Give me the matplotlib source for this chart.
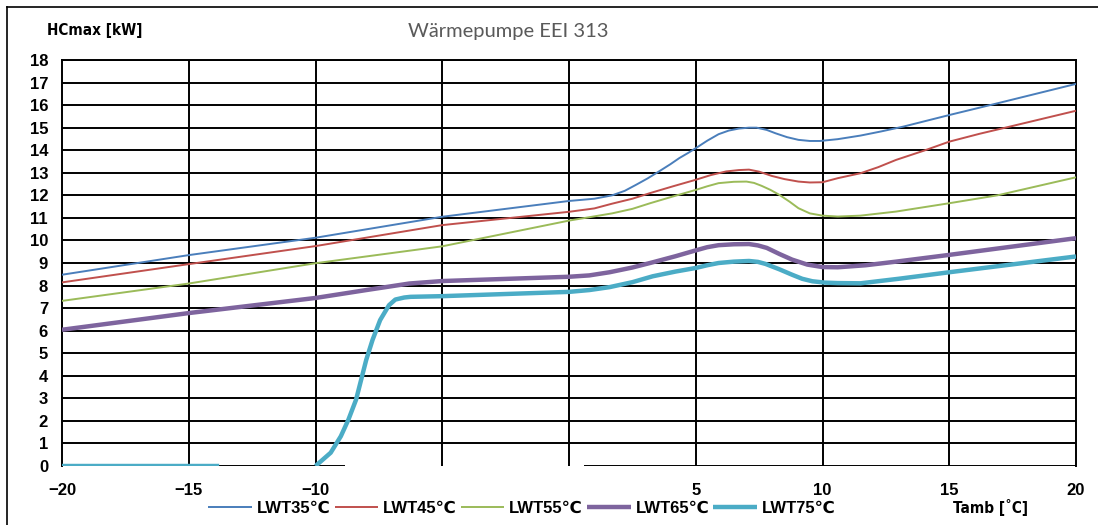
import numpy as np
import matplotlib
matplotlib.use('Agg')
import matplotlib.pyplot as plt
from matplotlib.lines import Line2D

# 数据
x35 = [-20, -15, -10, -5, 0, 1, 1.7, 2.2, 2.65, 3.1, 3.55, 4.0, 4.35, 4.7, 5, 5.45, 5.9, 6.3, 6.7, 7.1, 7.4,
       7.8, 8.15, 8.6, 9.05, 9.5, 9.9, 10.6, 11.5, 12.3, 13.2, 15, 16.9, 20]
y35 = [8.48, 9.35, 10.12, 11.05, 11.75, 11.85, 12.0, 12.2, 12.47, 12.75, 13.06, 13.38, 13.65, 13.88, 14.09,
       14.42, 14.71, 14.87, 14.96, 15.0, 15.0, 14.9, 14.75, 14.58, 14.46, 14.41, 14.41, 14.49, 14.65, 14.83,
       15.05, 15.56, 16.08, 16.94]

x45 = [-20, -15, -10, -5, 0, 1, 1.7, 2.5, 3.2, 4.1, 5, 5.6, 6.2, 6.7, 7.1, 7.5, 8.0, 8.5, 9.05, 9.5, 10.0,
       10.6, 11.5, 12.2, 12.9, 14, 15, 16.2, 17.4, 20]
y45 = [8.14, 8.95, 9.75, 10.68, 11.27, 11.42, 11.63, 11.85, 12.1, 12.4, 12.69, 12.9, 13.06, 13.12, 13.14,
       13.05, 12.86, 12.72, 12.61, 12.57, 12.58, 12.76, 12.98, 13.25, 13.57, 13.98, 14.38, 14.73, 15.05, 15.75]

x55 = [-20, -15, -10, -5, 0, 0.8, 1.7, 2.5, 3.2, 4.1, 5, 5.45, 5.9, 6.5, 7.0, 7.3, 7.6, 7.95, 8.3, 8.7,
       9.05, 9.5, 10, 10.6, 11.5, 12.9, 15, 16.9, 20]
y55 = [7.32, 8.09, 8.99, 9.74, 10.88, 11.03, 11.2, 11.4, 11.65, 11.95, 12.24, 12.4, 12.54, 12.6, 12.61,
       12.55, 12.42, 12.24, 12.02, 11.72, 11.43, 11.2, 11.1, 11.06, 11.1, 11.28, 11.65, 12.0, 12.8]

x65 = [-20, -15, -10, -8, -6.3, -5, 0, 0.8, 1.6, 2.5, 3.3, 4.2, 5, 5.45, 5.9, 6.5, 7.1, 7.45, 7.8, 8.3,
       8.8, 9.4, 10, 10.6, 11.7, 12.9, 15, 20]
y65 = [6.04, 6.78, 7.45, 7.8, 8.09, 8.2, 8.39, 8.45, 8.59, 8.8, 9.03, 9.3, 9.56, 9.7, 9.79, 9.83, 9.84,
       9.78, 9.67, 9.4, 9.15, 8.93, 8.82, 8.81, 8.9, 9.06, 9.36, 10.1]

x75 = [-20, -13.8, -12, -10, -9.4, -9.0, -8.7, -8.4, -8.2, -8.0, -7.75, -7.45, -7.1, -6.85, -6.5, -6.25,
       -5, 0, 0.8, 1.6, 2.5, 3.3, 4.2, 5, 5.45, 5.9, 6.5, 7.1, 7.45, 7.75, 8.3, 8.8, 9.2, 9.6, 10.1, 10.6,
       11.5, 13, 15, 20]
y75 = [0, 0, np.nan, 0, 0.59, 1.32, 2.06, 2.94, 3.82, 4.7, 5.59, 6.47, 7.13, 7.38, 7.47, 7.5,
       7.53, 7.72, 7.8, 7.93, 8.15, 8.41, 8.62, 8.78, 8.9, 9.0, 9.06, 9.09, 9.05, 8.96, 8.72, 8.48, 8.3,
       8.19, 8.13, 8.11, 8.1, 8.3, 8.59, 9.29]

series = [
    ('LWT35℃', x35, y35, '#4a7ebb', 1.4),
    ('LWT45℃', x45, y45, '#c0504d', 1.4),
    ('LWT55℃', x55, y55, '#9bbb59', 1.4),
    ('LWT65℃', x65, y65, '#7e649e', 3.2),
    ('LWT75℃', x75, y75, '#4bacc6', 3.2),
]

xticks = [-20, -15, -10, 5, 10, 15, 20]
yticks = list(range(0, 19))

tick_font = ['Liberation Sans', 'DejaVu Sans']

fig = plt.figure(figsize=(10.98, 5.25), dpi=100)
ax = fig.add_axes([62 / 1098, 1 - 466 / 525, 1014 / 1098, 406 / 525])

ax.set_xlim(-20, 20)
ax.set_ylim(0, 18)

# 网格线
for gx in range(-15, 20, 5):
    ax.axvline(gx, color='black', lw=1.4, zorder=1)
for gy in range(1, 19):
    ax.axhline(gy, color='black', lw=1.4, zorder=1)
# 0 线在中间断开
ax.hlines(0, -20, -8.84, color='black', lw=1.4, zorder=1)
ax.hlines(0, 0.6, 20, color='black', lw=1.4, zorder=1)

handles = []
for label, xs, ys, color, lw in series:
    h, = ax.plot(xs, ys, color=color, lw=lw, label=label, zorder=3,
                 solid_capstyle='butt', solid_joinstyle='round')
    handles.append(h)

for side in ['top', 'left', 'right']:
    ax.spines[side].set_linewidth(1.4)
ax.spines['bottom'].set_visible(False)

ax.set_xticks(xticks)
ax.set_xticklabels([f'{v}'.replace('-', '−') for v in xticks])
ax.set_yticks(yticks)
ax.tick_params(axis='y', length=0, pad=10)
ax.tick_params(axis='x', length=0, pad=12)
for lab in ax.get_xticklabels() + ax.get_yticklabels():
    lab.set_family(tick_font)
    lab.set_fontweight('bold')
    lab.set_fontsize(12)

fig.text(47 / 1098, 1 - 30 / 525, 'HCmax [kW]', family='DejaVu Sans', fontstretch='condensed',
         fontweight='heavy', fontsize=11, ha='left', va='center')
fig.text(508 / 1098, 1 - 32 / 525, 'Wärmepumpe EEI 313', family=['Lato', 'DejaVu Sans'],
         fontsize=14.5, color='#5a5a5a', ha='center', va='center')
fig.text(953 / 1098, 1 - 508 / 525, 'Tamb [˚C]', family='DejaVu Sans', fontstretch='condensed',
         fontweight='heavy', fontsize=11, ha='left', va='center')

leg = fig.legend(handles=handles, loc='center', bbox_to_anchor=(522 / 1098, 1 - 508 / 525),
                 ncol=5, frameon=False, handlelength=2.6, handletextpad=0.3, columnspacing=0.25,
                 prop={'family': tick_font, 'weight': 'bold', 'size': 12})

# 外框线
fig.add_artist(Line2D([7 / 1098, 1], [1 - 7 / 525, 1 - 7 / 525], color='black', lw=1.2))
fig.add_artist(Line2D([7 / 1098, 7 / 1098], [0, 1 - 7 / 525], color='black', lw=1.2))

fig.savefig('out.png', dpi=100)
plt.close(fig)
